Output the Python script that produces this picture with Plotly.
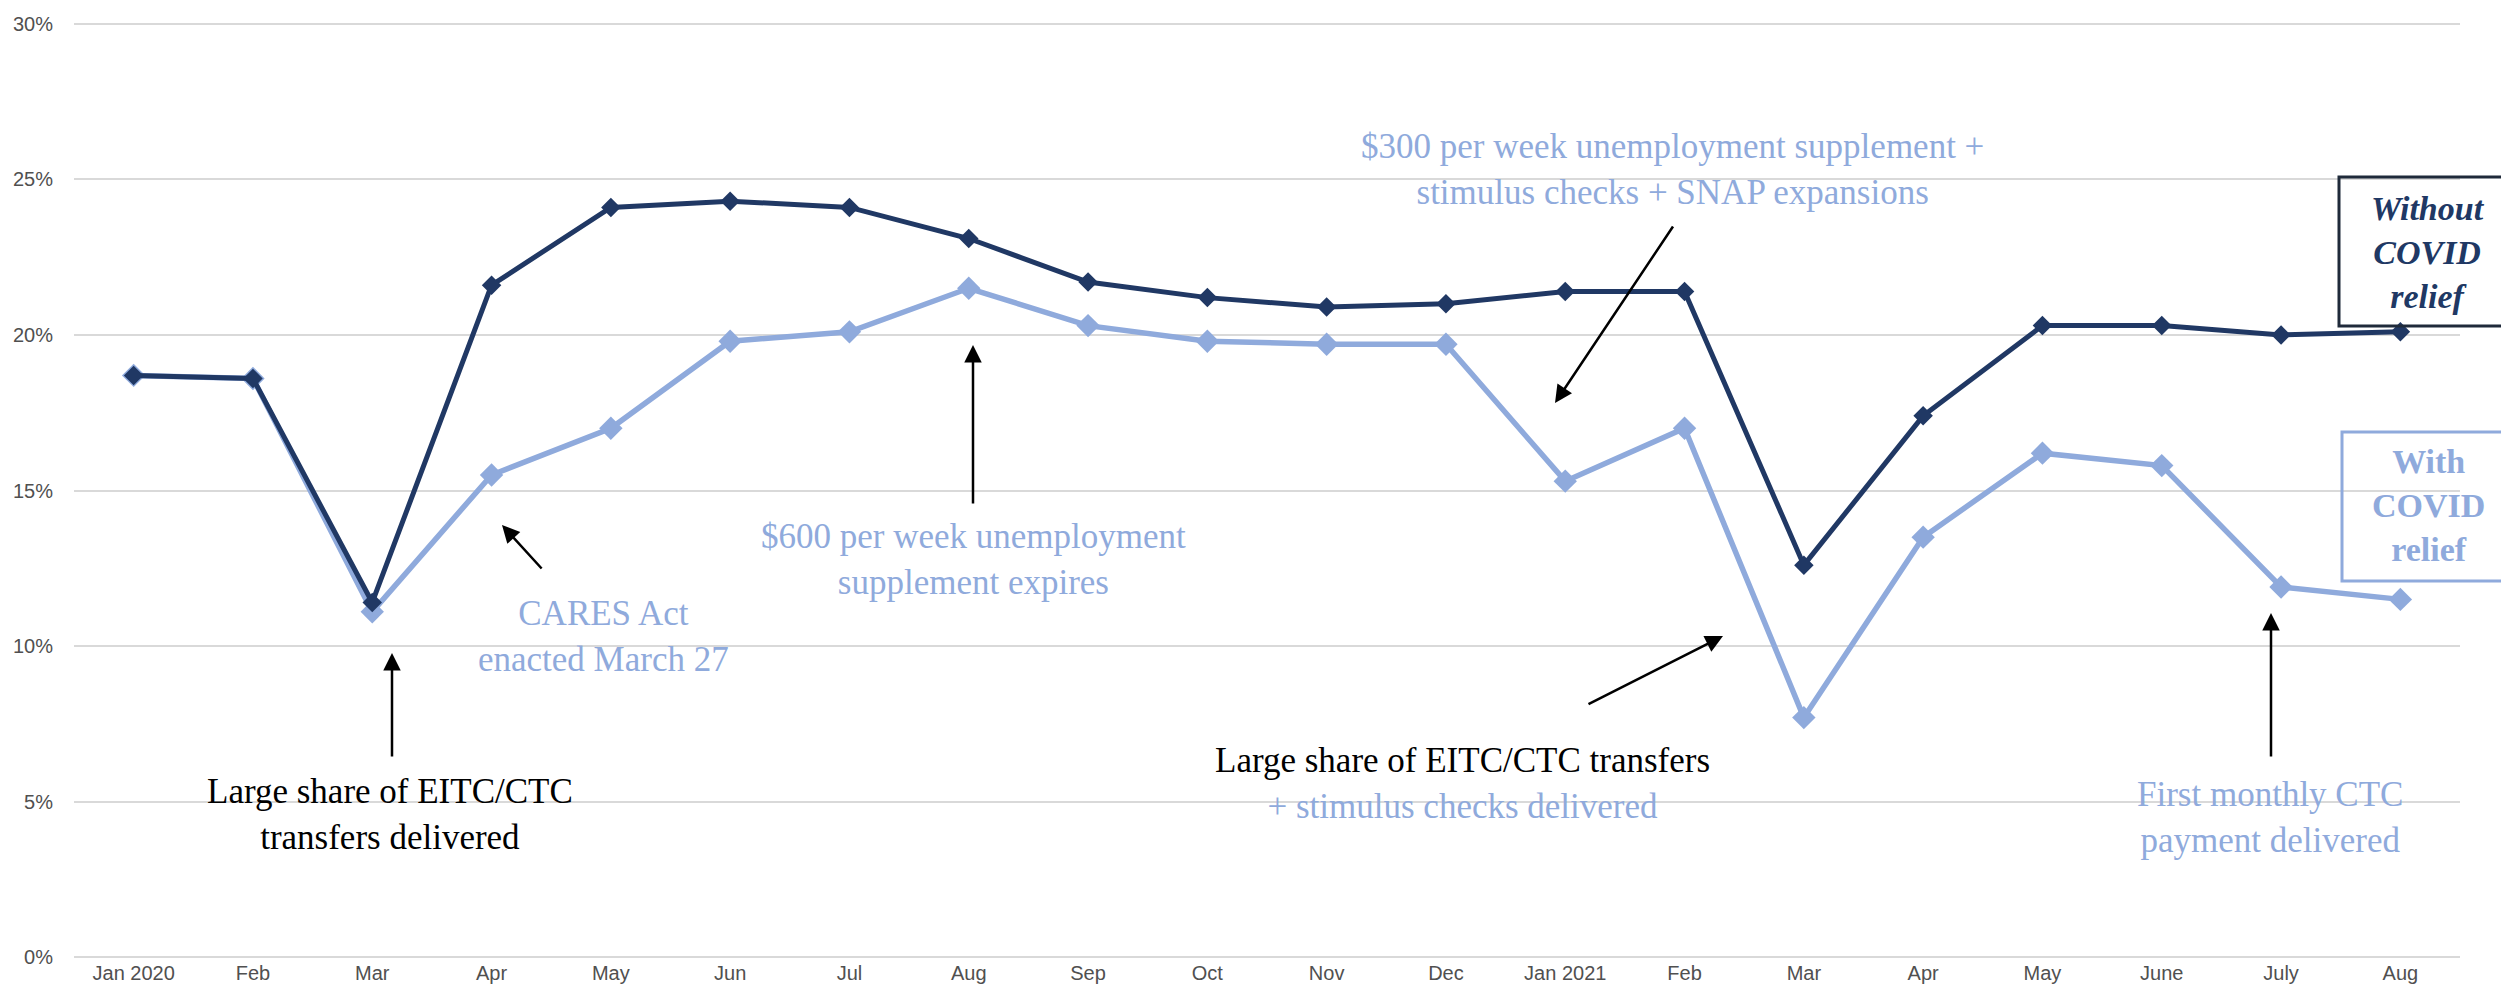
import plotly.graph_objects as go

months = ["Jan 2020", "Feb", "Mar", "Apr", "May", "Jun", "Jul", "Aug", "Sep", "Oct",
          "Nov", "Dec", "Jan 2021", "Feb", "Mar", "Apr", "May", "June", "July", "Aug"]
without_relief = [18.7, 18.6, 11.4, 21.6, 24.1, 24.3, 24.1, 23.1, 21.7, 21.2,
                  20.9, 21.0, 21.4, 21.4, 12.6, 17.4, 20.3, 20.3, 20.0, 20.1]
with_relief = [18.7, 18.6, 11.1, 15.5, 17.0, 19.8, 20.1, 21.5, 20.3, 19.8,
               19.7, 19.7, 15.3, 17.0, 7.7, 13.5, 16.2, 15.8, 11.9, 11.5]
y_ticks = [0, 5, 10, 15, 20, 25, 30]
y_labels = [f"{v}%" for v in y_ticks]

DARK = "#203864"
LIGHT = "#8FAADC"
SERIF = "Liberation Serif, Times New Roman, serif"
SANS = "Liberation Sans, Arial, sans-serif"

W, H = 2509, 993
L, R, T, B = 66, 57, 14, 42

# pixel -> paper helpers
def px(x):
    return (x - L) / (W - L - R)

def py(y):
    return (H - B - y) / (H - T - B)

xs = list(range(len(months)))

fig = go.Figure()
fig.add_trace(go.Scatter(x=xs, y=with_relief, mode="lines+markers", name="With COVID relief",
                         line=dict(color=LIGHT, width=5.5),
                         marker=dict(symbol="diamond", size=18, color=LIGHT)))
fig.add_trace(go.Scatter(x=xs, y=without_relief, mode="lines+markers", name="Without COVID relief",
                         line=dict(color=DARK, width=5),
                         marker=dict(symbol="diamond", size=15, color=DARK)))

fig.update_layout(template="none", width=W, height=H, margin=dict(l=L, r=R, t=T, b=B),
                  plot_bgcolor="white", paper_bgcolor="white", showlegend=False)
fig.update_xaxes(range=[-0.5, len(months) - 0.5], tickvals=xs, ticktext=months,
                 automargin=False, showgrid=False, zeroline=False, showline=False, ticks="",
                 tickfont=dict(family=SANS, size=20, color="#505050"))
# small padding so the 0% and 30% gridlines are drawn
fig.update_yaxes(range=[-0.06, 30.06], tickvals=y_ticks, ticktext=y_labels, showgrid=True,
                 automargin=False, gridcolor="#D9D9D9", gridwidth=2, zeroline=False,
                 showline=False, ticks="", ticklabelstandoff=20,
                 tickfont=dict(family=SANS, size=20, color="#505050"))

def note(x, y, text, color):
    fig.add_annotation(x=px(x), y=py(y), xref="paper", yref="paper", text=text,
                       showarrow=False, align="center", xanchor="center", yanchor="middle",
                       font=dict(family=SERIF, size=35, color=color))

def arrow(x0, y0, x1, y1):
    # tail (x0, y0) -> head (x1, y1) in pixels
    fig.add_annotation(x=px(x1), y=py(y1), xref="paper", yref="paper", text="",
                       showarrow=True, ax=x0 - x1, ay=y0 - y1, axref="pixel", ayref="pixel",
                       arrowhead=2, arrowsize=1.4, arrowwidth=2.5, arrowcolor="black")

note(1664, 161, "$300 per week unemployment supplement +<br>stimulus checks + SNAP expansions", LIGHT)
arrow(1666, 217, 1547, 395)

note(965, 551, "$600 per week unemployment<br>supplement expires", LIGHT)
arrow(965, 497, 965, 337)

note(595, 628, "CARES Act<br>enacted March 27", LIGHT)
arrow(535, 562, 494, 517)

note(382, 806, "Large share of EITC/CTC<br>transfers delivered", "black")
arrow(384, 750, 384, 645)

note(1454, 775, "Large share of EITC/CTC transfers<br>"
     f"<span style='color:{LIGHT}'>+ stimulus checks delivered</span>", "black")
arrow(1579, 697, 1715, 628)

note(2262, 809, "First monthly CTC<br>payment delivered", LIGHT)
arrow(2263, 750, 2263, 605)

# series label boxes
fig.add_shape(type="rect", xref="paper", yref="paper", x0=px(2331), x1=px(2506),
              y0=py(318), y1=py(169), line=dict(color="#1F2A3A", width=3), fillcolor="rgba(0,0,0,0)")
fig.add_annotation(x=px(2420), y=py(245), xref="paper", yref="paper", xanchor="center",
                   yanchor="middle", text="<b><i>Without<br>COVID<br>relief</i></b>", showarrow=False,
                   font=dict(family=SERIF, size=34, color=DARK))
fig.add_shape(type="rect", xref="paper", yref="paper", x0=px(2334), x1=px(2507),
              y0=py(573), y1=py(424), line=dict(color=LIGHT, width=3), fillcolor="rgba(0,0,0,0)")
fig.add_annotation(x=px(2420), y=py(498), xref="paper", yref="paper", xanchor="center",
                   yanchor="middle", text="<b>With<br>COVID<br>relief</b>", showarrow=False,
                   font=dict(family=SERIF, size=34, color=LIGHT))

fig.write_html("out.html")
